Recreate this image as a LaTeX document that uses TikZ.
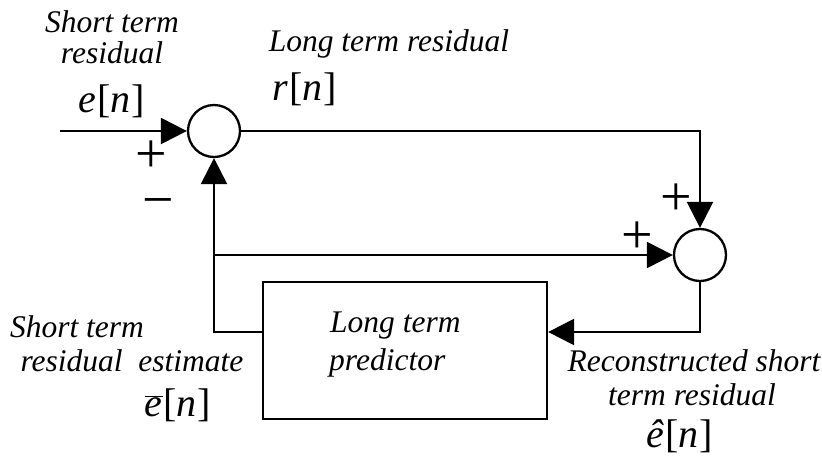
\documentclass[tikz,border=0pt]{standalone}
\usepackage{fontspec}
\setmainfont{Liberation Serif}
\usetikzlibrary{arrows.meta}
\tikzset{
  sumnode/.style={circle,draw,line width=2.3pt,minimum size=52pt,inner sep=0pt},
  blockbox/.style={draw,line width=2.3pt,minimum width=284pt,minimum height=137pt,inner sep=0pt},
  wire/.style={line width=2.3pt},
  arr/.style={wire,-{Triangle[length=26pt,width=26pt]}},
  lab/.style={font=\fontsize{31.5}{34}\selectfont\itshape,inner sep=0pt,align=center},
  mathlab/.style={font=\fontsize{40}{42}\selectfont,inner sep=0pt},
  plussign/.style={font=\fontsize{56}{56}\selectfont,inner sep=0pt,anchor=base,text height=29pt,text depth=0pt},
  minussign/.style={font=\fontsize{56}{56}\selectfont,inner sep=0pt,anchor=base,text height=17pt,text depth=0pt}
}
\newcommand{\mvar}[1]{\textit{#1}}
\begin{document}
\begin{tikzpicture}[x=1pt,y=-1pt]
\useasboundingbox (0,0) rectangle (822,459);
\node[sumnode] (s1) at (214,131) {};
\node[sumnode] (s2) at (700,255) {};
\node[blockbox] (pred) at (405,350.5) {};
\coordinate (in) at (60,131);
\coordinate (c1) at (700,131);
\coordinate (c2) at (700,332);
\coordinate (c3) at (214,332);
\coordinate (c4) at (214,255);
% connectors
\draw[arr] (in) -- (s1.west);
\draw[arr] (s1.east) -- (c1) -- (s2.north);
\draw[arr] (s2.south) -- (c2) -- (pred.east |- c2);
\draw[arr] (pred.west |- c3) -- (c3) -- (s1.south);
\draw[arr] (c4) -- (s2.west);
% labels
\node[lab] (l1) at (112,22) {Short term};
\node[lab] (l2) at (112,53) {residual};
\node[mathlab] (l3) at (112,101) {\mvar{e}\kern1pt[\mvar{n}\kern1pt]};
\node[lab] (l4) at (389,44) {Long term residual};
\node[mathlab] (l5) at (305,89) {\mvar{r}\kern1pt[\mvar{n}\kern1pt]};
\node[plussign] (p1) at (151,172) {+};
\node[minussign] (m1) at (158,218) {\textminus};
\node[plussign] (p2) at (676,215) {+};
\node[plussign] (p3) at (637,253) {+};
\node[lab,anchor=west] (l6) at (330,326) {Long term};
\node[lab,anchor=west] (l7) at (329,363) {predictor};
\node[lab] (l8) at (77,327) {Short term};
\node[lab] (l9) at (132,361) {residual\ \ estimate};
\node[mathlab] (l10) at (178,405) {$\overline{\mbox{\mvar{e}}}$\kern1pt[\mvar{n}\kern1pt]};
\node[lab] (l11) at (694,361) {Reconstructed short};
\node[lab] (l12) at (692,395) {term residual};
\node[mathlab] (l13) at (680,436) {\mvar{ê}\kern1pt[\mvar{n}\kern1pt]};
\end{tikzpicture}
\end{document}
